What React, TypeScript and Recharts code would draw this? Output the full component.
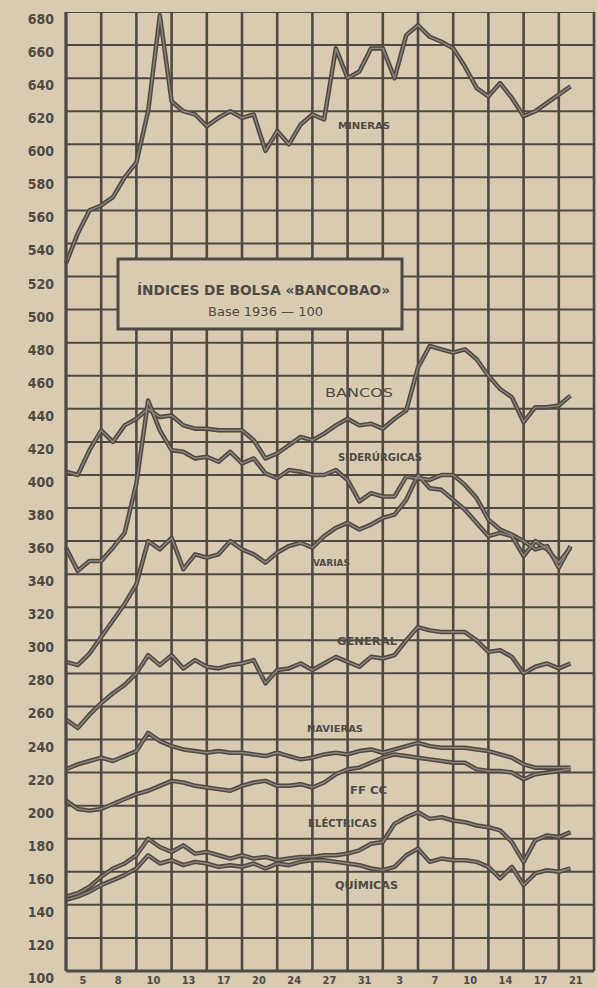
import * as React from "react"
import { LineChart, Line, XAxis, YAxis } from "recharts"

// fechas bajo cada columna (casi cortadas en el original)
const dateLabels = ["5", "8", "10", "13", "17", "20", "24", "27", "31", "3", "7", "10", "14", "17", "21"]
const colTicks = [0, 3, 6, 9, 12, 15, 18, 21, 24, 27, 30, 33, 36, 39, 42, 45]
const yTicks = [100, 120, 140, 160, 180, 200, 220, 240, 260, 280, 300, 320, 340, 360, 380, 400, 420, 440, 460, 480, 500, 520, 540, 560, 580, 600, 620, 640, 660, 680]

const mineras = [528, 546, 560, 563, 568, 580, 589, 620, 678, 626, 620, 618, 611, 616, 620, 616, 618, 596, 608, 600, 612, 618, 615, 658, 640, 644, 658, 658, 640, 666, 672, 665, 662, 658, 647, 634, 629, 637, 628, 617, 620, 625, 630, 635]
const bancos = [402, 400, 415, 427, 420, 430, 434, 440, 435, 436, 430, 428, 428, 427, 427, 427, 421, 410, 413, 418, 423, 421, 425, 430, 434, 430, 431, 428, 434, 439, 465, 478, 476, 474, 476, 470, 460, 452, 447, 432, 441, 441, 442, 448]
const siderurgicas = [356, 342, 348, 348, 356, 365, 395, 445, 427, 415, 414, 410, 411, 408, 414, 407, 410, 401, 398, 403, 402, 400, 400, 403, 397, 384, 389, 387, 387, 399, 398, 397, 400, 400, 394, 386, 373, 367, 364, 360, 355, 357, 344, 357]
const varias = [287, 285, 292, 302, 312, 322, 334, 360, 355, 362, 343, 352, 350, 352, 360, 355, 352, 347, 353, 357, 359, 356, 363, 368, 371, 367, 370, 374, 376, 385, 400, 392, 391, 385, 379, 371, 363, 365, 363, 351, 360, 355, 347, 356]
const general = [252, 247, 255, 262, 268, 273, 280, 291, 285, 291, 283, 288, 284, 283, 285, 286, 288, 274, 282, 283, 286, 282, 286, 290, 287, 284, 290, 289, 291, 300, 308, 306, 305, 305, 305, 300, 293, 294, 290, 280, 284, 286, 283, 286]
const navieras = [222, 225, 227, 229, 227, 230, 233, 244, 239, 236, 234, 233, 232, 233, 232, 232, 231, 230, 232, 230, 228, 229, 231, 232, 231, 233, 234, 232, 234, 236, 238, 236, 235, 235, 235, 234, 233, 231, 229, 225, 223, 223, 223, 223]
const ferrocarriles = [203, 198, 197, 198, 201, 204, 207, 209, 212, 215, 214, 212, 211, 210, 209, 212, 214, 215, 212, 212, 213, 211, 214, 219, 222, 223, 226, 229, 231, 230, 229, 228, 227, 226, 226, 222, 221, 221, 220, 216, 219, 220, 221, 222]
const electricas = [145, 147, 151, 157, 162, 165, 170, 180, 175, 172, 176, 171, 172, 170, 168, 170, 168, 169, 167, 168, 169, 169, 170, 170, 171, 173, 177, 178, 189, 193, 196, 192, 193, 191, 190, 188, 187, 185, 178, 166, 179, 182, 181, 184]
const quimicas = [143, 145, 148, 152, 155, 158, 162, 170, 165, 167, 164, 166, 165, 163, 164, 163, 165, 162, 165, 164, 166, 167, 167, 166, 165, 164, 162, 161, 163, 170, 174, 166, 168, 167, 167, 166, 163, 156, 163, 152, 159, 161, 160, 162]

const seriesKeys = ["mineras", "bancos", "siderurgicas", "varias", "general", "navieras", "ferrocarriles", "electricas", "quimicas"]
const seriesValues = [mineras, bancos, siderurgicas, varias, general, navieras, ferrocarriles, electricas, quimicas]

const data = mineras.map((_, i) => {
  const row: Record<string, number> = { t: i }
  seriesKeys.forEach((k, s) => {
    row[k] = seriesValues[s][i]
  })
  return row
})

// cuadricula del papel: cada linea es una serie de dos puntos sobre las mismas escalas
// (las horizontales llevan una inclinacion despreciable: un trazo de altura cero no se pinta aqui)
const yMin = yTicks[0]
const yMax = yTicks[yTicks.length - 1]
const xMax = colTicks[colTicks.length - 1]
const hGrid = yTicks.map((v, i) => ({ key: "h" + i, rows: [{ t: 0, ["h" + i]: v }, { t: xMax, ["h" + i]: v + 0.02 }] }))
const vGrid = colTicks.map((c, i) => ({ key: "v" + i, rows: [{ t: c, ["v" + i]: yMin }, { t: c, ["v" + i]: yMax }] }))

const PAPER = "#d9cbb1"
const INK = "#4f4944"
const FONT = "'DejaVu Sans Condensed', 'Liberation Sans Narrow', 'Roboto', sans-serif"

function YTick(props: any) {
  const { y, payload } = props
  return (
    <text x={54} y={y + 12} textAnchor="end" fontSize={14} fontWeight={700} fill={INK} fontFamily={FONT}>
      {payload.value}
    </text>
  )
}

function XTick(props: any) {
  const { x, y, payload } = props
  const idx = payload.value / 3
  if (idx >= dateLabels.length) return null
  return (
    <text x={x + 17} y={y + 5} textAnchor="middle" fontSize={11} fontWeight={700} fill={INK} fontFamily={FONT}>
      {dateLabels[idx]}
    </text>
  )
}

function Labels() {
  const s = { fill: INK, fontFamily: FONT, fontWeight: 700 }
  return (
    <svg width={597} height={988} style={{ position: "absolute", left: 0, top: 0, pointerEvents: "none" }}>
      <rect x={118} y={259} width={284} height={70} fill={PAPER} stroke={INK} strokeWidth={3} />
      <text x={137} y={295} fontSize={14} textLength={253} lengthAdjust="spacingAndGlyphs" {...s}>
        ÍNDICES DE BOLSA «BANCOBAO»
      </text>
      <text x={208} y={316} fontSize={13} textLength={115} lengthAdjust="spacingAndGlyphs" fill={INK} fontFamily={FONT}>
        Base 1936 — 100
      </text>
      <text x={338} y={129} fontSize={9} textLength={52} lengthAdjust="spacingAndGlyphs" {...s}>MINERAS</text>
      <text x={325} y={397} fontSize={13} textLength={68} lengthAdjust="spacingAndGlyphs" {...s} fontWeight={400}>BANCOS</text>
      <text x={338} y={461} fontSize={10} textLength={84} lengthAdjust="spacingAndGlyphs" {...s}>SIDERÚRGICAS</text>
      <text x={313} y={566} fontSize={9} textLength={37} lengthAdjust="spacingAndGlyphs" {...s}>VARIAS</text>
      <text x={337} y={645} fontSize={11} textLength={60} lengthAdjust="spacingAndGlyphs" {...s}>GENERAL</text>
      <text x={307} y={732} fontSize={9} textLength={56} lengthAdjust="spacingAndGlyphs" {...s}>NAVIERAS</text>
      <text x={350} y={794} fontSize={10} textLength={37} lengthAdjust="spacingAndGlyphs" {...s}>FF CC</text>
      <text x={308} y={827} fontSize={10} textLength={69} lengthAdjust="spacingAndGlyphs" {...s}>ELÉCTRICAS</text>
      <text x={335} y={889} fontSize={10} textLength={63} lengthAdjust="spacingAndGlyphs" {...s}>QUÍMICAS</text>
    </svg>
  )
}

export default function App() {
  return (
    <div style={{ position: "absolute", left: 0, top: 0, width: 597, height: 988, overflow: "hidden", background: PAPER }}>
      <LineChart width={597} height={988} data={data} margin={{ top: 12, right: 3, left: 8, bottom: 0 }}>
        <XAxis
          type="number"
          dataKey="t"
          domain={[0, 45]}
          ticks={colTicks}
          height={17}
          axisLine={{ stroke: INK, strokeWidth: 3 }}
          tickLine={false}
          tick={<XTick />}
          interval={0}
        />
        <YAxis
          type="number"
          domain={[100, 680]}
          ticks={yTicks}
          width={58}
          axisLine={{ stroke: INK, strokeWidth: 3 }}
          tickLine={false}
          tick={<YTick />}
          interval={0}
          allowDataOverflow
        />
        {hGrid.map((g) => (
          <Line key={g.key} data={g.rows} dataKey={g.key} stroke={INK} strokeWidth={2} dot={false} isAnimationActive={false} legendType="none" />
        ))}
        {vGrid.map((g) => (
          <Line key={g.key} data={g.rows} dataKey={g.key} stroke={INK} strokeWidth={2.6} dot={false} isAnimationActive={false} legendType="none" />
        ))}
        {seriesKeys.map((k) => (
          <Line key={k + "-o"} dataKey={k} stroke={INK} strokeWidth={4.5} dot={false} isAnimationActive={false} strokeLinejoin="round" />
        ))}
        {seriesKeys.map((k) => (
          <Line key={k + "-i"} dataKey={k} stroke="#8e857c" strokeWidth={1.4} dot={false} isAnimationActive={false} strokeLinejoin="round" />
        ))}
      </LineChart>
      <Labels />
    </div>
  )
}
